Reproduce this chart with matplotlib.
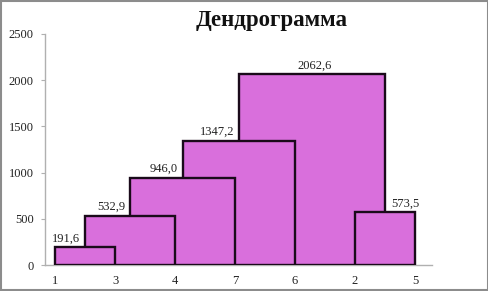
import matplotlib
matplotlib.use('Agg')
import matplotlib.pyplot as plt
from matplotlib.patches import Rectangle

# leaves in display order
leaf_labels = ['1', '3', '4', '7', '6', '2', '5']

# merges like a scipy linkage: ids 0..6 are leaves, 7.. are new clusters
merge_a = [0, 7, 8, 9, 5, 10]
merge_b = [1, 2, 3, 4, 6, 11]
heights = [191.6, 532.9, 946.0, 1347.2, 573.5, 2062.6]

plt.rcParams['font.family'] = ['Liberation Serif', 'DejaVu Serif']

fig = plt.figure(figsize=(4.89, 2.91), dpi=100)
ax = fig.add_axes([0.092, 0.0893, 0.791, 0.7939])

# cluster positions (midpoint of children)
n = len(leaf_labels)
pos = {i: float(i) for i in range(n)}
for k, (a, b) in enumerate(zip(merge_a, merge_b)):
    pos[n + k] = (pos[a] + pos[b]) / 2

# parent of each cluster, for label placement
parent = {}
for k, (a, b) in enumerate(zip(merge_a, merge_b)):
    parent[a] = (n + k, 'left')
    parent[b] = (n + k, 'right')

fill = '#d96fdc'
# tallest first so lower boxes cover it
order = sorted(range(len(heights)), key=lambda k: -heights[k])
for k in order:
    left = pos[merge_a[k]]
    right = pos[merge_b[k]]
    ax.add_patch(Rectangle((left, 0), right - left, heights[k],
                           facecolor=fill, edgecolor='#1a0a1a', linewidth=1.7, zorder=2))

# value labels next to the parent junction
for k, h in enumerate(heights):
    cid = n + k
    txt = f'{h:.1f}'.replace('.', ',')
    if cid in parent:
        p, side = parent[cid]
        pk = p - n
        if side == 'left':
            x, ha = pos[merge_a[pk]] - 0.08, 'right'
        else:
            x, ha = pos[merge_b[pk]] + 0.1, 'left'
    else:
        x, ha = pos[cid] + 0.05, 'center'
    ax.annotate(txt, (x, h), xytext=(0, 2), textcoords='offset points',
                ha=ha, va='bottom', fontsize=9, color='#222222', zorder=3)

ax.set_xlim(-0.167, 6.28)
ax.set_ylim(0, 2500)
ax.set_yticks([0, 500, 1000, 1500, 2000, 2500])
ax.set_xticks(range(n))
ax.set_xticklabels(leaf_labels)

for s in ['top', 'right']:
    ax.spines[s].set_visible(False)
for s in ['left', 'bottom']:
    ax.spines[s].set_color('#b0b0b0')
    ax.spines[s].set_linewidth(1.0)
ax.spines['bottom'].set_zorder(1)

ax.tick_params(axis='y', direction='out', length=3, color='#b0b0b0',
               labelsize=9, labelcolor='#222222', pad=5)
ax.tick_params(axis='x', length=0, labelsize=9, labelcolor='#222222', pad=7)

fig.text(0.556, 0.928, 'Дендрограмма', ha='center', va='center',
         fontsize=16.5, fontweight='bold', color='#111111')

# gray frame round the picture
fig.patches.append(Rectangle((0.002, 0.003), 0.996, 0.994, transform=fig.transFigure,
                             fill=False, edgecolor='#8c8c8c', linewidth=1.5))

fig.savefig('out.png', dpi=100)
